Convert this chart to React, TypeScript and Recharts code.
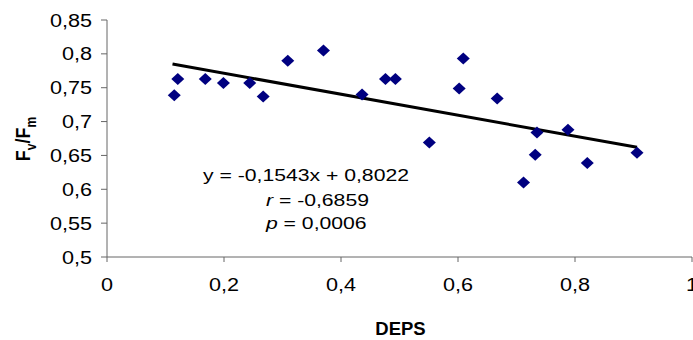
import React from 'react';
import { ScatterChart, Scatter, XAxis, YAxis, ReferenceLine, ReferenceDot } from 'recharts';

// DEPS vs Fv/Fm readings
const deps = [0.115, 0.121, 0.168, 0.199, 0.244, 0.267, 0.309, 0.370, 0.436, 0.476, 0.493, 0.551, 0.602, 0.609, 0.667, 0.712, 0.732, 0.735, 0.788, 0.821, 0.906];
const fvfm = [0.739, 0.763, 0.763, 0.757, 0.757, 0.737, 0.790, 0.805, 0.740, 0.763, 0.763, 0.669, 0.749, 0.793, 0.734, 0.610, 0.651, 0.684, 0.688, 0.639, 0.654];

const xTicks = [0, 0.2, 0.4, 0.6, 0.8, 1];
const yTicks = [0.5, 0.55, 0.6, 0.65, 0.7, 0.75, 0.8, 0.85];

// linear trendline end points
const trendX = [0.112, 0.906];
const trendY = [0.785, 0.662];

const statLines = [
  { sym: 'y', rest: ' = -0,1543x + 0,8022', italic: false },
  { sym: 'r', rest: ' = -0,6859', italic: true },
  { sym: 'p', rest: ' = 0,0006', italic: true },
];
const statAnchor = { x: 0.164, y: 0.6122 };

const points = deps.map((d, i) => ({ x: d, y: fvfm[i] }));

const FONT = '"Liberation Sans", Arial, sans-serif';
const AXIS = '#666666';
const comma = (v: number) => String(v).replace('.', ',');

const Diamond = (props: any) => {
  const { cx, cy } = props;
  const rx = 6.5;
  const ry = 6;
  return (
    <polygon
      points={`${cx},${cy - ry} ${cx + rx},${cy} ${cx},${cy + ry} ${cx - rx},${cy}`}
      fill="#000080"
    />
  );
};

const XTick = (props: any) => {
  const { x, y, payload } = props;
  return (
    <g transform={`translate(${x},${y + 29}) scale(1.17,1)`}>
      <text x={0} y={0} textAnchor="middle" fontFamily={FONT} fontSize={18.5} fill="#000">
        {comma(payload.value)}
      </text>
    </g>
  );
};

const YTick = (props: any) => {
  const { x, y, payload } = props;
  return (
    <g transform={`translate(${x},${y + 6.6}) scale(1.17,1)`}>
      <text x={0} y={0} textAnchor="end" fontFamily={FONT} fontSize={18.5} fill="#000">
        {comma(payload.value)}
      </text>
    </g>
  );
};

const YTitle = () => (
  <g transform="translate(30,139) scale(1.15,1) rotate(-90)">
    <text x={0} y={0} textAnchor="middle" fontFamily={FONT} fontSize={18} fontWeight="bold" fill="#000">
      F<tspan fontSize={12} dy={5}>v</tspan>
      <tspan dy={-5}>/F</tspan>
      <tspan fontSize={12} dy={5}>m</tspan>
    </text>
  </g>
);

const XTitle = (props: any) => {
  const vb = props.viewBox || { x: 107, y: 257, width: 585 };
  return (
    <text
      x={vb.x + vb.width / 2 + 1}
      y={vb.y + 78}
      textAnchor="middle"
      fontFamily={FONT}
      fontSize={18.5}
      fontWeight="bold"
      fill="#000"
    >
      DEPS
    </text>
  );
};

const Stats = (props: any) => {
  const { cx, cy } = props;
  const offsets = [
    { dx: 0, dy: 0 },
    { dx: 63, dy: 25 },
    { dx: 63, dy: 48 },
  ];
  return (
    <g>
      {statLines.map((l, i) => (
        <g key={i} transform={`translate(${cx + offsets[i].dx},${cy + offsets[i].dy}) scale(1.3,1)`}>
          <text x={0} y={0} fontFamily={FONT} fontSize={16.3} fill="#000">
            <tspan fontStyle={l.italic ? 'italic' : 'normal'}>{l.sym}</tspan>
            <tspan>{l.rest}</tspan>
          </text>
        </g>
      ))}
    </g>
  );
};

export default function App() {
  return (
    <div style={{ position: 'absolute', left: 0, top: 0, width: 693, height: 340, background: '#fff' }}>
      <ScatterChart width={693} height={340} margin={{ top: 20, right: 1, left: 0, bottom: 0 }}>
        <XAxis
          type="number"
          dataKey="x"
          domain={[0, 1]}
          ticks={xTicks}
          interval={0}
          stroke={AXIS}
          tickSize={5}
          tickMargin={0}
          height={83}
          tick={<XTick />}
          allowDataOverflow
          label={<XTitle />}
        />
        <YAxis
          type="number"
          dataKey="y"
          domain={[0.5, 0.85]}
          ticks={yTicks}
          interval={0}
          stroke={AXIS}
          tickSize={6}
          tickMargin={9}
          width={107}
          tick={<YTick />}
          allowDataOverflow
          label={<YTitle />}
        />
        <ReferenceLine
          segment={[
            { x: trendX[0], y: trendY[0] },
            { x: trendX[1], y: trendY[1] },
          ]}
          stroke="#000"
          strokeWidth={3}
        />
        <Scatter data={points} shape={<Diamond />} isAnimationActive={false} />
        <ReferenceDot x={statAnchor.x} y={statAnchor.y} r={0} shape={<Stats />} />
      </ScatterChart>
    </div>
  );
}
